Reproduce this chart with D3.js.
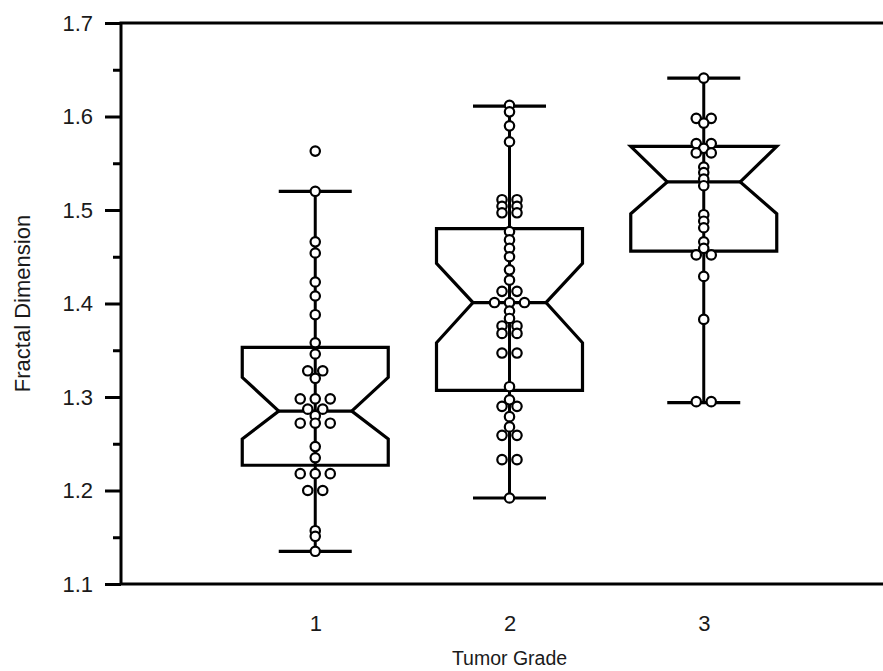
<!DOCTYPE html>
<html>
<head>
<meta charset="utf-8">
<script src="https://cdn.jsdelivr.net/npm/d3@7"></script>
<style>
  body { margin: 0; background: #fff; }
  svg { display: block; }
  text { font-family: "Liberation Sans", Arial, sans-serif; }
</style>
</head>
<body>
<svg id="chart" width="883" height="671"></svg>
<script>
// categories (tumor grade)
const grades = ["1", "2", "3"];

// box statistics
const q1 = [1.227, 1.307, 1.456];
const medians = [1.285, 1.401, 1.530];
const q3 = [1.353, 1.480, 1.568];
const notchLo = [1.255, 1.358, 1.496];
const notchHi = [1.321, 1.443, 1.568];
const whiskerLo = [1.135, 1.192, 1.294];
const whiskerHi = [1.520, 1.611, 1.641];

// individual observations
const grade1 = [1.563, 1.520, 1.466, 1.454, 1.423, 1.408, 1.388, 1.358, 1.346, 1.328, 1.328, 1.320,
  1.298, 1.298, 1.298, 1.287, 1.287, 1.280, 1.272, 1.272, 1.272, 1.247, 1.235,
  1.218, 1.218, 1.218, 1.200, 1.200, 1.157, 1.151, 1.135];
const grade2 = [1.612, 1.605, 1.590, 1.573, 1.511, 1.511, 1.504, 1.504, 1.497, 1.497, 1.477, 1.468,
  1.459, 1.450, 1.436, 1.425, 1.413, 1.413, 1.401, 1.401, 1.401, 1.392, 1.384, 1.376, 1.376,
  1.368, 1.368, 1.347, 1.347, 1.311, 1.297, 1.290, 1.290, 1.279, 1.268, 1.259, 1.259,
  1.233, 1.233, 1.192];
const grade3 = [1.641, 1.598, 1.598, 1.593, 1.571, 1.571, 1.566, 1.561, 1.561, 1.546, 1.540, 1.533,
  1.526, 1.495, 1.488, 1.481, 1.466, 1.459, 1.452, 1.452, 1.429, 1.383, 1.295, 1.295];
const points = [grade1, grade2, grade3];

const yTicks = [1.1, 1.2, 1.3, 1.4, 1.5, 1.6, 1.7];
const yMinor = [1.15, 1.25, 1.35, 1.45, 1.55, 1.65];

const plotLeft = 121, plotRight = 898, plotTop = 23, plotBottom = 584;

const svg = d3.select("#chart");

const x = d3.scalePoint().domain(grades).range([plotLeft, plotRight]).padding(1);
const y = d3.scaleLinear().domain([1.1, 1.7]).range([plotBottom, plotTop]);

const boxW = 146;
const capW = boxW / 2;

// frame (right side runs off the picture)
svg.append("rect")
  .attr("x", plotLeft)
  .attr("y", plotTop)
  .attr("width", plotRight - plotLeft)
  .attr("height", plotBottom - plotTop)
  .attr("fill", "none")
  .attr("stroke", "#000")
  .attr("stroke-width", 3);

// y axis
const yAxis = svg.append("g")
  .attr("transform", `translate(${plotLeft},0)`)
  .call(d3.axisLeft(y).tickValues(yTicks).tickFormat(d3.format(".1f")).tickSize(16).tickPadding(12));
yAxis.select(".domain").remove();
yAxis.selectAll(".tick line").attr("stroke", "#000").attr("stroke-width", 3);
yAxis.selectAll(".tick text")
  .attr("fill", "#1a1a1a")
  .style("font-family", "'Liberation Sans', Arial, sans-serif")
  .style("font-size", "22px");

const yMinorAxis = svg.append("g")
  .attr("transform", `translate(${plotLeft},0)`)
  .call(d3.axisLeft(y).tickValues(yMinor).tickFormat("").tickSize(8));
yMinorAxis.select(".domain").remove();
yMinorAxis.selectAll(".tick line").attr("stroke", "#000").attr("stroke-width", 3);

// x labels
const xAxis = svg.append("g")
  .attr("transform", `translate(0,${plotBottom})`)
  .call(d3.axisBottom(x).tickSize(0).tickPadding(31));
xAxis.select(".domain").remove();
xAxis.selectAll(".tick text")
  .attr("fill", "#1a1a1a")
  .style("font-family", "'Liberation Sans', Arial, sans-serif")
  .style("font-size", "22px");

svg.append("text")
  .attr("x", x("2"))
  .attr("y", 665)
  .attr("text-anchor", "middle")
  .attr("fill", "#1a1a1a")
  .style("font-size", "19.5px")
  .text("Tumor Grade");

svg.append("text")
  .attr("transform", `translate(30,${(plotTop + plotBottom) / 2}) rotate(-90)`)
  .attr("text-anchor", "middle")
  .attr("fill", "#1a1a1a")
  .style("font-size", "22px")
  .text("Fractal Dimension");

// boxes
const boxes = svg.append("g");
grades.forEach((g, i) => {
  const cx = x(g);
  const x0 = cx - boxW / 2, x1 = cx + boxW / 2;
  const ni = boxW / 4;
  const grp = boxes.append("g");

  // whisker stem and caps
  grp.append("line")
    .attr("x1", cx).attr("x2", cx)
    .attr("y1", y(whiskerLo[i])).attr("y2", y(whiskerHi[i]))
    .attr("stroke", "#000").attr("stroke-width", 3);
  [whiskerLo[i], whiskerHi[i]].forEach(v => {
    grp.append("line")
      .attr("x1", cx - capW / 2).attr("x2", cx + capW / 2)
      .attr("y1", y(v)).attr("y2", y(v))
      .attr("stroke", "#000").attr("stroke-width", 3.2);
  });

  // notched box
  const p = [
    [x0, y(q3[i])], [x1, y(q3[i])], [x1, y(notchHi[i])], [x1 - ni, y(medians[i])],
    [x1, y(notchLo[i])], [x1, y(q1[i])], [x0, y(q1[i])], [x0, y(notchLo[i])],
    [x0 + ni, y(medians[i])], [x0, y(notchHi[i])]
  ].map(a => `${a[0]},${a[1]}`).join(" ");
  grp.append("polygon")
    .attr("points", p)
    .attr("fill", "#fff")
    .attr("stroke", "#000")
    .attr("stroke-width", 3.2)
    .attr("stroke-linejoin", "miter");

  // whisker stem continues through the box, like the original
  grp.append("line")
    .attr("x1", cx).attr("x2", cx)
    .attr("y1", y(q1[i])).attr("y2", y(q3[i]))
    .attr("stroke", "#000").attr("stroke-width", 3);

  grp.append("line")
    .attr("x1", x0 + ni).attr("x2", x1 - ni)
    .attr("y1", y(medians[i])).attr("y2", y(medians[i]))
    .attr("stroke", "#000").attr("stroke-width", 3.2);
});

// dots: equal values sit side by side, centred on the box
const dotStep = 15;
const dots = svg.append("g");
points.forEach((vals, i) => {
  const cx = x(grades[i]);
  const rows = d3.groups(vals, v => v);
  rows.forEach(([v, arr]) => {
    arr.forEach((d, j) => {
      dots.append("circle")
        .attr("cx", cx + (j - (arr.length - 1) / 2) * dotStep)
        .attr("cy", y(v))
        .attr("r", 4.7)
        .attr("fill", "#fff")
        .attr("stroke", "#000")
        .attr("stroke-width", 2.2);
    });
  });
});
</script>
</body>
</html>
